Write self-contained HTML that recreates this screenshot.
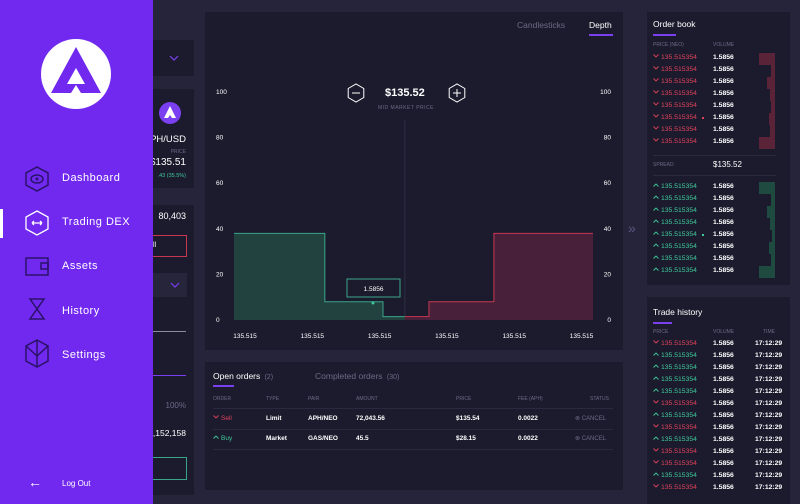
<!DOCTYPE html>
<html><head><meta charset="utf-8"><style>
*{margin:0;padding:0;box-sizing:border-box}
body{width:800px;height:504px;background:#25243a;font-family:"Liberation Sans",sans-serif;color:#fff;position:relative;overflow:hidden}
.abs{position:absolute}
.panel{position:absolute;background:#1c1b2e}
.t{position:absolute;white-space:nowrap}
.red{color:#e0415a}.green{color:#3ec99a}.dim{color:#6b6a85}
.b{font-weight:bold}
</style></head><body>
<div class="panel" style="left:150px;top:40px;width:44px;height:36px"><svg class="abs" style="left:19px;top:15px" width="10" height="6"><path d="M1 1l4 4 4-4" fill="none" stroke="#7b3ff2" stroke-width="1.2"/></svg></div>
<div class="panel" style="left:150px;top:89px;width:44px;height:99px">
 <svg class="abs" style="left:9px;top:13px" width="22" height="22"><circle cx="11" cy="11" r="11" fill="#7b3ff2"/><path d="M11 4 L17 16 L13 16 L11 13 L9 16 L5 16 Z" fill="#fff"/></svg>
 <div class="t" style="right:8px;top:45px;font-size:9.5px">PH/USD</div>
 <div class="t dim" style="right:8px;top:60px;font-size:5px">PRICE</div>
 <div class="t" style="right:8px;top:68px;font-size:10px">$135.51</div>
 <div class="t green" style="right:8px;top:84px;font-size:5.5px">.43 (35.5%)</div>
</div>
<div class="panel" style="left:150px;top:205px;width:44px;height:290px">
 <div class="t" style="right:8px;top:6px;font-size:9px">80,403</div>
 <div class="abs" style="left:0;top:30px;width:37px;height:22px;border:1px solid #c7374f;font-size:7px;padding:6px 0 0 2px">ll</div>
 <div class="abs" style="left:0;top:68px;width:37px;height:24px;background:#26253b"><svg class="abs" style="left:20px;top:9px" width="10" height="6"><path d="M1 1l4 4 4-4" fill="none" stroke="#7b3ff2" stroke-width="1.2"/></svg></div>
 <div class="abs" style="left:0;top:126px;width:36px;height:1px;background:#8a8aa0"></div>
 <div class="abs" style="left:0;top:170px;width:36px;height:1px;background:#7b3ff2"></div>
 <div class="t dim" style="right:8px;top:196px;font-size:8px">100%</div>
 <div class="t" style="right:8px;top:223px;font-size:8.5px">2,152,158</div>
 <div class="abs" style="left:0;top:252px;width:37px;height:23px;border:1px solid #3aa58a"></div>
</div>

<div class="abs" style="left:0;top:0;width:153px;height:504px;background:#7129f0">
 <svg class="abs" style="left:40px;top:38px" width="72" height="72"><circle cx="36" cy="36" r="35" fill="#fff"/><path d="M36 9 L61 55 L41 55 L36 47 L31 55 L11 55 Z" fill="#7129f0"/><path d="M36 30 L45 46 L27 46 Z" fill="#fff"/></svg>
 <div class="abs" style="left:0;top:209px;width:3px;height:29px;background:#fff"></div>
 <svg class="abs" style="left:24px;top:165px" width="26" height="210">
  <polygon points="13,2 24,8 24,20 13,26 2,20 2,8" fill="none" stroke="#2a1268" stroke-width="1.5"/>
  <ellipse cx="13" cy="14" rx="6" ry="4" fill="none" stroke="#2a1268" stroke-width="1.5"/>
  <circle cx="13" cy="14" r="1.5" fill="#2a1268"/>
  <rect x="2" y="93" width="22" height="17" fill="none" stroke="#2a1268" stroke-width="1.5"/>
  <rect x="17" y="98" width="7" height="6" fill="none" stroke="#2a1268" stroke-width="1.5"/>
  <path d="M6 134h14l-7 10l7 10H6l7-10z" fill="none" stroke="#2a1268" stroke-width="1.5"/>
  <polygon points="13,175 24,181 24,196 13,202 2,196 2,181" fill="none" stroke="#2a1268" stroke-width="1.5"/>
  <path d="M2 181l11 10 11-10M13 175v27" fill="none" stroke="#2a1268" stroke-width="1.5"/>
  <polygon points="13,46 24,52 24,64 13,70 2,64 2,52" fill="none" stroke="#ffffff" stroke-width="1.3"/>
  <path d="M8 58h10M8 58l2-2M8 58l2 2M18 58l-2-2M18 58l-2 2" fill="none" stroke="#ffffff" stroke-width="1.3"/>
 </svg>
 <div class="t" style="left:62px;top:172px;font-size:11px;letter-spacing:.5px">Dashboard</div>
 <div class="t" style="left:62px;top:216px;font-size:11px;letter-spacing:.5px">Trading DEX</div>
 <div class="t" style="left:62px;top:260px;font-size:11px;letter-spacing:.5px">Assets</div>
 <div class="t" style="left:62px;top:305px;font-size:11px;letter-spacing:.5px">History</div>
 <div class="t" style="left:62px;top:349px;font-size:11px;letter-spacing:.5px">Settings</div>
 <div class="t" style="left:28px;top:474px;font-size:14px">←</div>
 <div class="t" style="left:62px;top:479px;font-size:8px">Log Out</div>
</div>

<div class="panel" style="left:205px;top:12px;width:418px;height:338px"></div>
<div class="t dim" style="left:517px;top:20px;font-size:8.5px">Candlesticks</div>
<div class="t" style="left:589px;top:20px;font-size:8.5px">Depth</div>
<div class="abs" style="left:589px;top:34px;width:24px;height:2px;background:#7b3ff2"></div>
<svg class="abs" style="left:0;top:0" width="800" height="504" id="chart"></svg>
<div class="t" style="left:385px;top:87px;font-size:11px;font-weight:bold">$135.52</div>
<div class="t dim" style="left:378px;top:105px;font-size:5px;letter-spacing:.5px">MID MARKET PRICE</div>

<div class="t" style="left:628px;top:220px;color:#5a5980;font-size:14px">»</div>

<div class="panel" style="left:205px;top:362px;width:418px;height:128px"></div>
<div class="t" style="left:213px;top:371px;font-size:8.5px">Open orders <span class="dim" style="font-size:7px">&nbsp;(2)</span></div>
<div class="abs" style="left:213px;top:385px;width:21px;height:2px;background:#7b3ff2"></div>
<div class="t dim" style="left:315px;top:371px;font-size:8.5px">Completed orders <span style="font-size:7px">&nbsp;(30)</span></div>

<div class="panel" style="left:647px;top:12px;width:143px;height:273px"></div>
<div class="t" style="left:653px;top:19px;font-size:8.5px">Order book</div>
<div class="abs" style="left:653px;top:34px;width:23px;height:2px;background:#7b3ff2"></div>
<div class="t dim" style="left:653px;top:42px;font-size:5px">PRICE (NEO)</div>
<div class="t dim" style="left:713px;top:42px;font-size:5px">VOLUME</div>
<div class="abs" style="left:653px;top:155px;width:123px;height:1px;background:#2a293f"></div>
<div class="t dim" style="left:653px;top:162px;font-size:5px">SPREAD</div>
<div class="t" style="left:713px;top:160px;font-size:8px">$135.52</div>
<div class="abs" style="left:653px;top:175px;width:123px;height:1px;background:#2a293f"></div>

<div class="panel" style="left:647px;top:297px;width:143px;height:207px"></div>
<div class="t" style="left:653px;top:307px;font-size:8.5px">Trade history</div>
<div class="abs" style="left:653px;top:322px;width:19px;height:2px;background:#7b3ff2"></div>
<div class="t dim" style="left:653px;top:329px;font-size:5px">PRICE</div>
<div class="t dim" style="left:713px;top:329px;font-size:5px">VOLUME</div>
<div class="t dim" style="left:763px;top:329px;font-size:5px">TIME</div>

<script>
const yTicks=[0,20,40,60,80,100];
const xTickLabels=["135.515","135.515","135.515","135.515","135.515","135.515"];
const bidEdges=[0,25.3,41.5,47.6];
const bidDepth=[38,8,1.5];
const askEdges=[47.6,54.3,72.4,100];
const askDepth=[1.5,8,38];
const bookVolBars=[12,3,6,4,3,5,4,12];
const bookBuyBars=[12,3,6,4,2,5,3,12];
const tradeDir=["d","u","u","u","u","d","u","d","u","d","d","u","d"];
const NS="http://www.w3.org/2000/svg";
const svg=document.getElementById('chart');
const X=v=>234+v/100*359, Y=v=>320-v/100*228;
function mk(tag,attrs,txt){const e=document.createElementNS(NS,tag);for(const k in attrs)e.setAttribute(k,attrs[k]);if(txt!==undefined)e.textContent=txt;svg.appendChild(e);return e;}
yTicks.forEach(v=>{
 let a=mk('text',{x:216,y:Y(v)+2,fill:'#fff','font-size':6.5,'font-family':'Liberation Sans'},v);
 
 let b=mk('text',{x:611,y:Y(v)+2,fill:'#fff','font-size':6.5,'text-anchor':'end','font-family':'Liberation Sans'},v);
 
});
xTickLabels.forEach((l,i)=>{
 let t=mk('text',{x:245+i*67.3,y:338,fill:'#fff','font-size':6.5,'text-anchor':'middle','font-family':'Liberation Sans'},l);
 
});
function steps(edges,vals,fill,stroke,name){
 let d='M'+X(edges[0])+' '+Y(0),line='';
 vals.forEach((v,i)=>{d+=' L'+X(edges[i])+' '+Y(v)+' L'+X(edges[i+1])+' '+Y(v);line+=(i?' L':'M')+X(edges[i])+' '+Y(v)+' L'+X(edges[i+1])+' '+Y(v);});
 d+=' L'+X(edges[edges.length-1])+' '+Y(0)+'Z';
 let a=mk('path',{d:d,fill:fill});
 let b=mk('path',{d:line,fill:'none',stroke:stroke,'stroke-width':1});
}
mk('line',{x1:X(bidEdges[3]),x2:X(bidEdges[3]),y1:120,y2:320,stroke:'#2e2d45'});
steps(bidEdges,bidDepth,'#22423f','#3aa58a','bids');
steps(askEdges,askDepth,'#48203a','#c7374f','asks');
let tip=mk('rect',{x:347,y:279,width:53,height:18,fill:'#1c1b2e',stroke:'#3aa58a'});
mk('text',{x:373.5,y:291,fill:'#fff','font-size':6.5,'text-anchor':'middle','font-family':'Liberation Sans'},'1.5856');
mk('circle',{cx:373,cy:303,r:1.5,fill:'#3ec99a'});
function hex(cx,cy,plus,name){
 let p=[];for(let i=0;i<6;i++){let a=Math.PI/3*i+Math.PI/6;p.push((cx+9*Math.cos(a))+','+(cy+9*Math.sin(a)));}
 let h=mk('polygon',{points:p.join(' '),fill:'none',stroke:'#fff','stroke-width':1});
 mk('line',{x1:cx-4,x2:cx+4,y1:cy,y2:cy,stroke:'#fff'});
 if(plus)mk('line',{x1:cx,x2:cx,y1:cy-4,y2:cy+4,stroke:'#fff'});
}
hex(356,93,false,'zoom-out-button');hex(457,93,true,'zoom-in-button');

function addT(parent,html,l,t,fs,cls,name){const d=document.createElement('div');d.className='t '+(cls||'');d.style.left=l+'px';d.style.top=t+'px';d.style.fontSize=fs+'px';d.innerHTML=html;
 
 
 document.body.appendChild(d);return d;}
function addBox(l,t,w,h,bg,name){const d=document.createElement('div');d.className='abs';d.style.cssText+=`left:${l}px;top:${t}px;width:${w}px;height:${h}px;background:${bg}`;
 
 
 document.body.appendChild(d);}
const DN='<svg width="6" height="4" style="margin-right:2px;vertical-align:1px"><path d="M0.5 0.5l2.5 2.5 2.5-2.5" fill="none" stroke="#e0415a" stroke-width="0.9"/></svg>';
const UP='<svg width="6" height="4" style="margin-right:2px;vertical-align:1px"><path d="M0.5 3.5l2.5-2.5 2.5 2.5" fill="none" stroke="#3ec99a" stroke-width="0.9"/></svg>';
for(let i=0;i<8;i++){
 let y=54+i*12;
 addT(0,DN+'135.515354',653,y,6.8,'red','ask-price');
 addT(0,'1.5856',713,y,6.8,'b','ask-volume');
 addBox(775-bookVolBars[i]*1.3,y-1,bookVolBars[i]*1.3,12,'#5a2337','ask-depth-bar');
 let y2=183+i*12;
 addT(0,UP+'135.515354',653,y2,6.8,'green','bid-price');
 addT(0,'1.5856',713,y2,6.8,'b','bid-volume');
 addBox(775-bookBuyBars[i]*1.3,y2-1,bookBuyBars[i]*1.3,12,'#1f4a40','bid-depth-bar');
}
addBox(702,117,2,2,'#e0415a','ask-marker');addBox(702,234,2,2,'#3ec99a','bid-marker');
tradeDir.forEach((d,i)=>{let y=340+i*12;
 addT(0,(d=='d'?DN:UP)+'135.515354',653,y,6.8,d=='d'?'red':'green','trade-price');
 addT(0,'1.5856',713,y,6.8,'b','trade-volume');
 addT(0,'17:12:29',755,y,6.8,'b','trade-time');
});
const heads=['ORDER','TYPE','PAIR','AMOUNT','PRICE','FEE (APH)'],hx=[213,266,308,356,456,518];
heads.forEach((h,i)=>addT(0,h,hx[i],396,5,'dim','order-col-header'));
addT(0,'STATUS',590,396,5,'dim','order-col-header');
const rows=[['Sell','Limit','APH/NEO','72,043.56','$135.54','0.0022'],['Buy','Market','GAS/NEO','45.5','$28.15','0.0022']];
rows.forEach((r,j)=>{let y=415+j*20;r.forEach((c,i)=>addT(0,i==0?(j?UP:DN)+c:c,hx[i],y,6.5,i==0?(j?'green':'red'):'b','order-cell'));
 addT(0,'⊗ CANCEL',575,y,6,'dim','cancel-button');});
[408,429,449].forEach(y=>addBox(213,y,400,1,'#2a293f','row-divider'));
</script>
</body></html>
